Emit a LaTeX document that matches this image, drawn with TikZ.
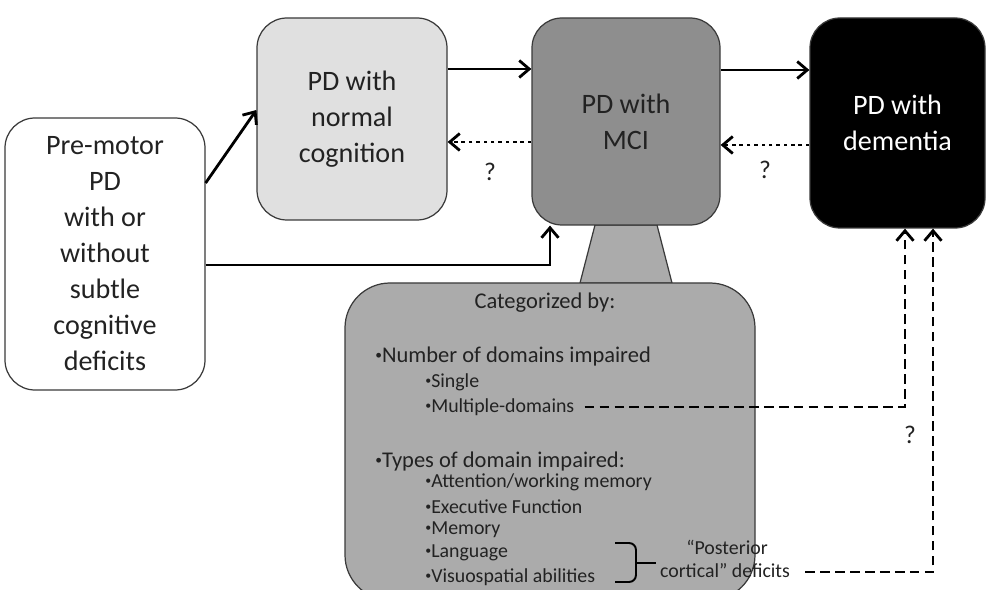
\documentclass[tikz,border=0pt]{standalone}
\usepackage{fontspec}
\setmainfont{Carlito}
\usetikzlibrary{positioning,calc,arrows.meta}
\definecolor{CogLight}{HTML}{E0E0E0}
\definecolor{CogMid}{HTML}{8E8E8E}
\definecolor{CogPanel}{HTML}{ABABAB}
\definecolor{CogEdge}{HTML}{3A3A3A}
\definecolor{CogText}{HTML}{222222}
\newcommand\itm{\raisebox{0.3ex}{\scalebox{0.6}{•}}}

\begin{document}
\begin{tikzpicture}[
  stage/.style={draw=CogEdge, line width=0.7pt, rounded corners=0.6cm, align=center, inner sep=2pt,
    font=\fontsize{16}{20.5}\selectfont, text=CogText},
  flow/.style={-{Straight Barb[length=2mm,width=3.4mm]}, line width=1.6pt},
  back/.style={flow, dash pattern=on 2pt off 2.2pt},
  link/.style={flow, dash pattern=on 5.5pt off 3pt},
  item/.style={anchor=west, inner sep=0pt, font=\fontsize{11.3}{12}\selectfont, text=CogText},
  head/.style={item, font=\fontsize{12.8}{14}\selectfont},
  query/.style={font=\fontsize{14.5}{16}\selectfont, text=CogText}
]
  \useasboundingbox (0,0) rectangle (19.82,11.8);

  % stand joining MCI to the panel
  \draw[draw=CogEdge, line width=0.7pt, fill=CogPanel] (11.9,7.3) -- (13.14,7.3) -- (13.44,6.14) -- (11.6,6.14) -- cycle;

  \node[stage, fill=white, minimum width=4cm, minimum height=5.44cm] (pre) at (2.1,6.72)
    {Pre-motor\\ PD\\ with or\\ without\\ subtle\\ cognitive\\ deficits};
  \node[stage, fill=CogLight, minimum width=3.8cm, minimum height=4.04cm] (norm) at (7.04,9.42)
    {PD with\\ normal\\ cognition};
  \node[stage, fill=CogMid, minimum width=3.76cm, minimum height=4.14cm] (mci) at (12.52,9.37)
    {PD with\\ MCI};
  \node[stage, fill=black, text=white, minimum width=3.5cm, minimum height=4.2cm] (dem) at (17.95,9.34)
    {PD with\\ dementia};

  % categories panel
  \node[draw=CogEdge, line width=0.7pt, fill=CogPanel, rounded corners=0.9cm, minimum width=8.2cm, minimum height=6.34cm] (panel) at (11.0,2.97) {};
  \node[head, anchor=center] (cat) at (10.9,5.74) {Categorized by:};
  \node[head] (num) at (7.5,4.66) {\itm Number of domains impaired};
  \node[item] (single) at (8.5,4.16) {\itm Single};
  \node[item] (multi) at (8.5,3.66) {\itm Multiple-domains};
  \node[head] (types) at (7.5,2.56) {\itm Types of domain impaired:};
  \node[item] (attn) at (8.5,2.16) {\itm Attention/working memory};
  \node[item] (exec) at (8.5,1.66) {\itm Executive Function};
  \node[item] (memo) at (8.5,1.2) {\itm Memory};
  \node[item] (lang) at (8.5,0.74) {\itm Language};
  \node[item] (visuo) at (8.5,0.26) {\itm Visuospatial abilities};
  \node[item, anchor=center] (post) at (14.54,0.86) {“Posterior};
  \node[item, anchor=center] (cort) at (14.5,0.38) {cortical” deficits};
  % brace
  \draw[line width=1.1pt, rounded corners=0.14cm] (12.3,0.94) -- (12.72,0.94) -- (12.72,0.16) -- (12.3,0.16);
  \draw[line width=1.1pt] (12.72,0.54) -- (13.12,0.54);

  % transitions
  \draw[flow] ([yshift=1.42cm]pre.east) -- ([yshift=0.18cm]norm.west);
  \draw[flow] ([yshift=-0.22cm]pre.east) -| ([xshift=-1.52cm]mci.south);
  \draw[flow] ([yshift=1cm]norm.east) -- ([yshift=1cm]norm.east -| mci.west);
  \draw[back] ([yshift=-0.41cm]mci.west) -- ([yshift=-0.41cm]mci.west -| norm.east);
  \draw[flow] ([yshift=1.03cm]mci.east) -- ([yshift=1.03cm]mci.east -| dem.west);
  \draw[back] ([yshift=-0.44cm]dem.west) -- ([yshift=-0.44cm]dem.west -| mci.east);
  \draw[link] ([xshift=0.2cm]multi.east) -| ([xshift=0.15cm]dem.south);
  \draw[link] ([xshift=0.3cm,yshift=-0.02cm]cort.east) -| ([xshift=0.71cm]dem.south);

  \node[query] (q1) at (9.8,8.36) {?};
  \node[query] (q2) at (15.3,8.4) {?};
  \node[query] (q3) at (18.2,3.1) {?};
\end{tikzpicture}
\end{document}
